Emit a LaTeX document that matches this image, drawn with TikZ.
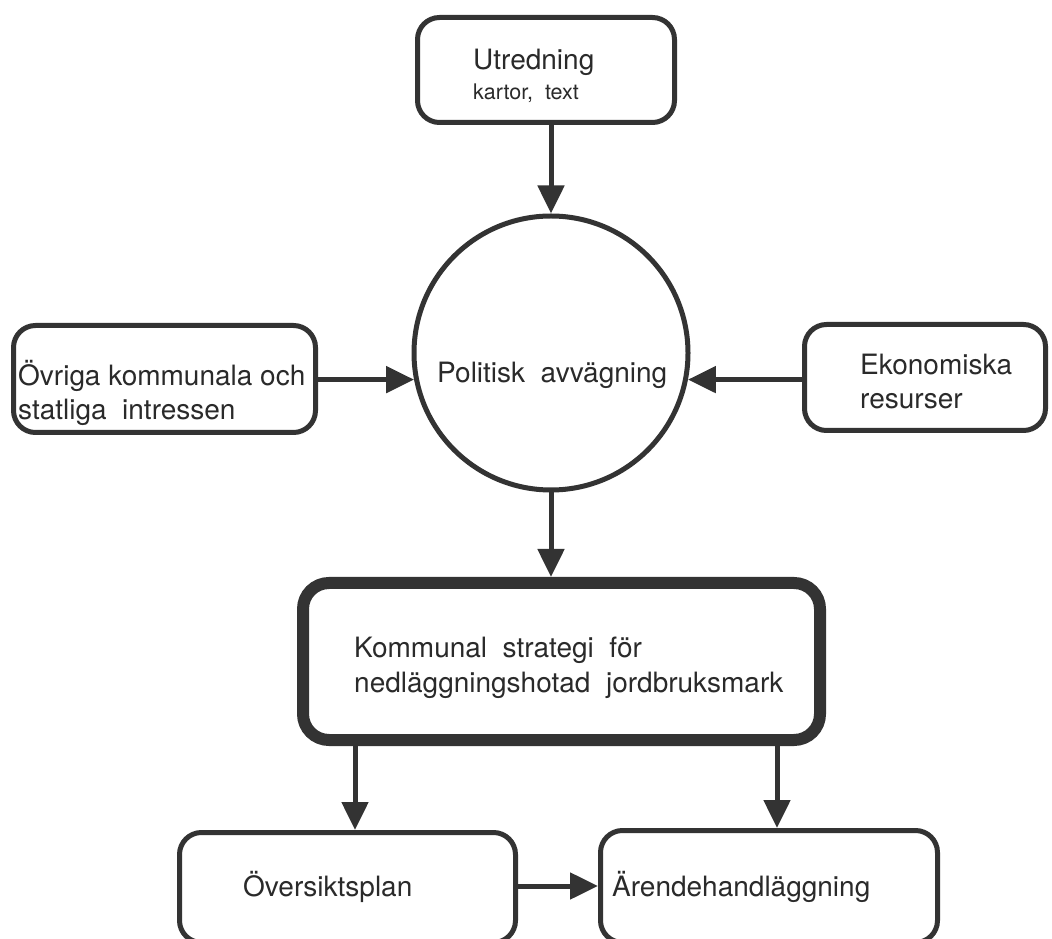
\documentclass[tikz,border=0pt]{standalone}
\usepackage{fontspec}
\setmainfont{TeX Gyre Heros}
\usetikzlibrary{arrows.meta}
\definecolor{ink}{HTML}{333333}
\definecolor{txtc}{HTML}{2A2A2A}
\tikzset{
  box/.style={draw=ink, line width=5pt, rounded corners=22pt, inner sep=0pt},
  bigbox/.style={draw=ink, line width=12pt, rounded corners=26pt, inner sep=0pt},
  circ/.style={draw=ink, line width=5pt, circle, inner sep=0pt},
  lbl/.style={inner sep=0pt, anchor=base west, text=txtc, font=\fontsize{28}{34}\selectfont},
  smalllbl/.style={lbl, font=\fontsize{21.5}{26}\selectfont},
  arr/.style={draw=ink, line width=5pt, -{Triangle[length=28pt,width=26pt]}}
}
\begin{document}
\begin{tikzpicture}[x=1pt,y=1pt]
\clip (0,0) rectangle (1052,938);
\fill[white] (0,0) rectangle (1052,938);
% boxes
\node[box, minimum width=257pt, minimum height=105pt] (utr) at (546,868) {};
\node[circ, minimum size=274pt] (pol) at (551,585) {};
\node[box, minimum width=302pt, minimum height=107pt] (ovr) at (164.5,559) {};
\node[box, minimum width=241pt, minimum height=106pt] (eko) at (925,560.5) {};
\node[bigbox, minimum width=517pt, minimum height=157pt] (str) at (561.5,276.5) {};
\node[box, minimum width=336pt, minimum height=110pt] (osp) at (347.5,50.5) {};
\node[box, minimum width=337pt, minimum height=112pt] (are) at (769,51.5) {};
% texts
\node[lbl] (t1) at (473,868) {Utredning};
\node[smalllbl] (t2) at (473,838) {kartor,\ \ text};
\node[lbl] (t3) at (437,555) {Politisk\ \ avvägning};
\node[lbl] (t4) at (18,552) {Övriga kommunala och};
\node[lbl] (t5) at (18,518) {statliga\ \ intressen};
\node[lbl] (t6) at (860,563) {Ekonomiska};
\node[lbl] (t7) at (860,529) {resurser};
\node[lbl] (t8) at (354,281) {Kommunal\ \ strategi\ \ för};
\node[lbl] (t9) at (354,246) {nedläggningshotad\ \ jordbruksmark};
\node[lbl] (t10) at (243,42) {Översiktsplan};
\node[lbl] (t11) at (612,42) {Ärendehandläggning};
% connectors
\draw[arr] (utr.south -| pol.north) -- (pol.north);
\draw[arr] (ovr.east |- pol.191) -- (pol.191);
\draw[arr] (eko.west |- pol.349) -- (pol.349);
\draw[arr] (pol.south) -- (str.north -| pol.south);
\coordinate (x1) at (355,0);
\coordinate (x2) at (777,0);
\draw[arr] (str.south -| x1) -- (osp.north -| x1);
\draw[arr] (str.south -| x2) -- (are.north -| x2);
\coordinate (y1) at (0,52);
\draw[arr] (osp.east |- y1) -- (are.west |- y1);
\end{tikzpicture}
\end{document}
